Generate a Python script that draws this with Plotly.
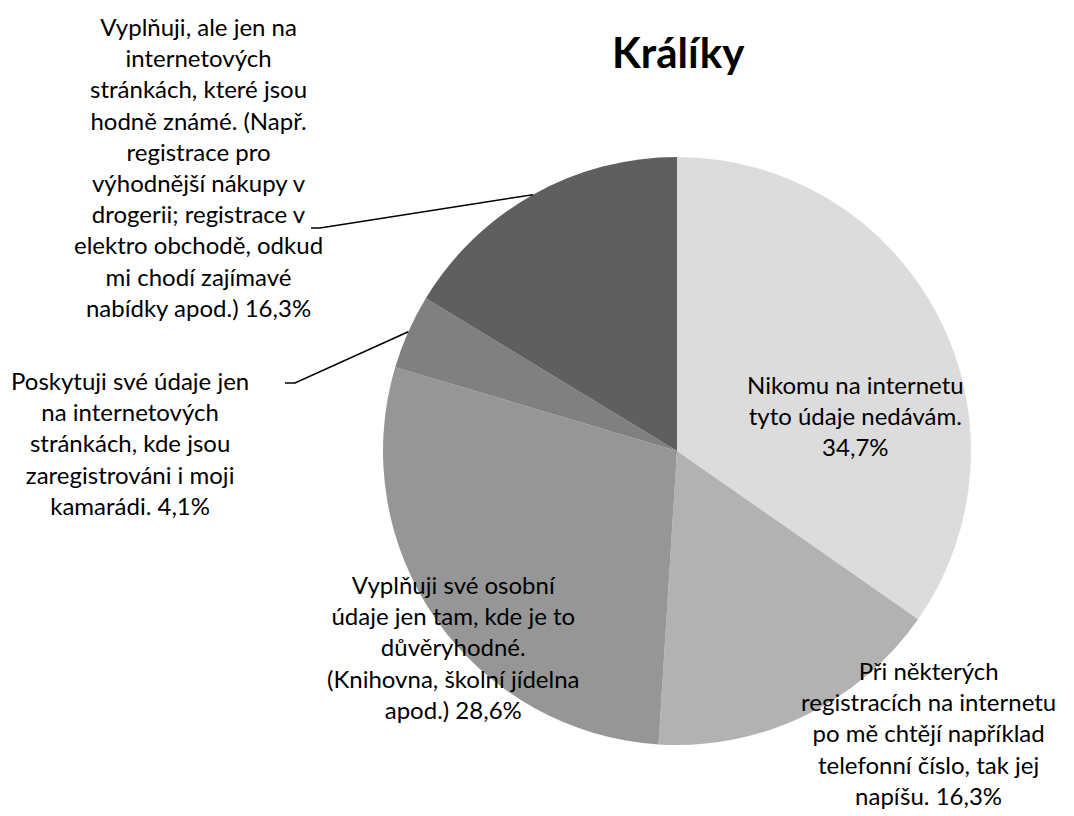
import math
import plotly.graph_objects as go

# ---- data ----
labels = [
    "Nikomu na internetu tyto údaje nedávám.",
    "Při některých registracích na internetu po mě chtějí například telefonní číslo, tak jej napíšu.",
    "Vyplňuji své osobní údaje jen tam, kde je to důvěryhodné. (Knihovna, školní jídelna apod.)",
    "Poskytuji své údaje jen na internetových stránkách, kde jsou zaregistrováni i moji kamarádi.",
    "Vyplňuji, ale jen na internetových stránkách, které jsou hodně známé. (Např. registrace pro výhodnější nákupy v drogerii; registrace v elektro obchodě, odkud mi chodí zajímavé nabídky apod.)",
]
values = [34.7, 16.3, 28.6, 4.1, 16.3]
pct_labels = ["34,7%", "16,3%", "28,6%", "4,1%", "16,3%"]
label_lines = [
    ["Nikomu na internetu", "tyto údaje nedávám."],
    ["Při některých", "registracích na internetu", "po mě chtějí například", "telefonní číslo, tak jej", "napíšu."],
    ["Vyplňuji své osobní", "údaje jen tam, kde je to", "důvěryhodné.", "(Knihovna, školní jídelna", "apod.)"],
    ["Poskytuji své údaje jen", "na internetových", "stránkách, kde jsou", "zaregistrováni i moji", "kamarádi."],
    ["Vyplňuji, ale jen na", "internetových", "stránkách, které jsou", "hodně známé. (Např.", "registrace pro",
     "výhodnější nákupy v", "drogerii; registrace v", "elektro obchodě, odkud", "mi chodí zajímavé", "nabídky apod.)"],
]
colors = ["#dcdcdc", "#b2b2b2", "#969696", "#808080", "#5f5f5f"]
title = "Králíky"

# ---- layout geometry (pixels in the screenshot) ----
OFF = 8  # default page body margin
W, H = 1074 - OFF, 816 - OFF
cx, cy, R = 677, 451, 294

def px(x):
    return (x - OFF) / W

def py(y):
    return 1 - (y - OFF) / H

# label centres (pixels)
label_pos = [(855, 415), (928, 733), (453, 647), (130, 443), (198, 167)]
pct_newline = [True, False, False, False, False]
# leader line elbows (pixels): (elbow_x, elbow_y, end_x) or None
leaders = [None, None, None, (295, 383, 285), (320, 228, 311)]

fig = go.Figure(go.Pie(
    labels=labels,
    values=values,
    sort=False,
    direction="clockwise",
    rotation=0,
    marker=dict(colors=colors, line=dict(width=0)),
    textinfo="none",
    hoverinfo="label+percent",
    showlegend=False,
    domain=dict(x=[px(cx - R), px(cx + R)], y=[py(cy + R), py(cy - R)]),
))

font = dict(family="Lato, 'Open Sans', sans-serif", size=24, color="black")
annotations = []
for i, lines in enumerate(label_lines):
    if pct_newline[i]:
        text = "<br>".join(lines + [pct_labels[i]])
    else:
        text = "<br>".join(lines[:-1] + [lines[-1] + " " + pct_labels[i]])
    x, y = label_pos[i]
    annotations.append(dict(
        text=text, x=px(x), y=py(y), xref="paper", yref="paper",
        xanchor="center", yanchor="middle", showarrow=False, align="center",
        font=font,
    ))

annotations.append(dict(
    text="<b>" + title + "</b>", x=px(678), y=py(52), xref="paper", yref="paper",
    xanchor="center", yanchor="middle", showarrow=False,
    font=dict(family="Lato, 'Open Sans', sans-serif", size=42, color="black"),
))

# leader lines from slice mid-angles
total = sum(values)
shapes = []
cum = 0.0
for i, v in enumerate(values):
    mid = (cum + v / 2) / total * 2 * math.pi
    cum += v
    if leaders[i] is None:
        continue
    sx = cx + R * math.sin(mid)
    sy = cy - R * math.cos(mid)
    ex, ey, endx = leaders[i]
    path = f"M {px(sx)},{py(sy)} L {px(ex)},{py(ey)} L {px(endx)},{py(ey)}"
    shapes.append(dict(type="path", path=path, xref="paper", yref="paper",
                       line=dict(color="black", width=1.5)))

fig.update_layout(
    width=W, height=H,
    margin=dict(l=0, r=0, t=0, b=0),
    paper_bgcolor="white", plot_bgcolor="white",
    annotations=annotations,
    shapes=shapes,
)

fig.write_html("out.html")
